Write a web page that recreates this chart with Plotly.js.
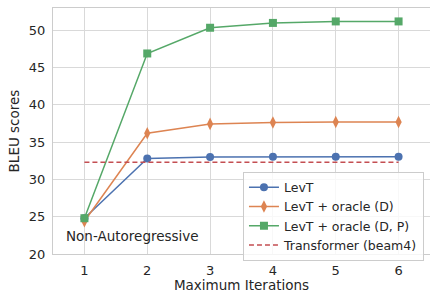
<!DOCTYPE html>
<html>
<head>
<meta charset="utf-8">
<script src="https://cdn.plot.ly/plotly-3.0.1.min.js"></script>
<style>html,body{margin:0;padding:0;background:#fff;}#chart{width:430px;height:293px;}</style>
</head>
<body>
<div id="chart"></div>
<script>
const iterations = [1, 2, 3, 4, 5, 6];
const levt = [24.8, 32.8, 33.0, 33.05, 33.05, 33.05];
const levtOracleD = [24.4, 36.2, 37.45, 37.65, 37.7, 37.7];
const levtOracleDP = [24.8, 46.9, 50.35, 51.0, 51.2, 51.2];
const transformerBeam4 = [32.3, 32.3, 32.3, 32.3, 32.3, 32.3];
const seriesNames = ["LevT", "LevT + oracle (D)", "LevT + oracle (D, P)", "Transformer (beam4)"];
const xTicks = [1, 2, 3, 4, 5, 6];
const yTicks = [20, 25, 30, 35, 40, 45, 50];

const font = "DejaVu Sans, sans-serif";
const txt = "#262626";

const traces = [
  {x: iterations, y: levt, name: seriesNames[0], mode: "lines+markers",
   line: {color: "#4C72B0", width: 1.5}, marker: {symbol: "circle", size: 8, color: "#4C72B0"}},
  {x: iterations, y: levtOracleD, name: seriesNames[1], mode: "lines+markers",
   line: {color: "#DD8452", width: 1.5}, marker: {symbol: "diamond-tall", size: 9, color: "#DD8452"}},
  {x: iterations, y: levtOracleDP, name: seriesNames[2], mode: "lines+markers",
   line: {color: "#55A868", width: 1.5}, marker: {symbol: "square", size: 8, color: "#55A868"}},
  {x: iterations, y: transformerBeam4, name: seriesNames[3], mode: "lines",
   line: {color: "#C44E52", width: 1.5, dash: "5px,3px"}}
];

const layout = {
  width: 430, height: 293,
  margin: {l: 53, r: 0, t: 8, b: 39},
  paper_bgcolor: "#fff", plot_bgcolor: "#fff",
  font: {family: font, size: 13, color: txt},
  showlegend: true,
  legend: {x: 0.984, y: 0.335, xanchor: "right", yanchor: "top",
    bgcolor: "rgba(255,255,255,0.8)", bordercolor: "#cccccc", borderwidth: 1,
    font: {family: font, size: 12.5, color: txt}, itemwidth: 30, tracegroupgap: 0},
  xaxis: {range: [0.5, 6.5], tickvals: xTicks, ticks: "", showgrid: true, gridcolor: "#d9d9d9", gridwidth: 1,
    zeroline: false, showline: true, linecolor: "#cccccc", linewidth: 1, mirror: true, automargin: false,
    ticklabelstandoff: 4,
    tickfont: {family: font, size: 13, color: txt},
    title: {text: "Maximum Iterations", font: {family: font, size: 13.5, color: txt}, standoff: 2}},
  yaxis: {range: [20, 53], tickvals: yTicks, ticks: "", showgrid: true, gridcolor: "#d9d9d9", gridwidth: 1,
    zeroline: false, showline: true, linecolor: "#cccccc", linewidth: 1, mirror: true, automargin: false,
    ticklabelstandoff: 4,
    tickfont: {family: font, size: 13, color: txt},
    title: {text: "BLEU scores", font: {family: font, size: 13.5, color: txt}, standoff: 6}},
  annotations: [{x: 1.77, y: 22.4, xref: "x", yref: "y", text: "Non-Autoregressive", showarrow: false,
    font: {family: font, size: 13.5, color: txt}}]
};

Plotly.newPlot("chart", traces, layout, {displayModeBar: false, staticPlot: true});
</script>
</body>
</html>
